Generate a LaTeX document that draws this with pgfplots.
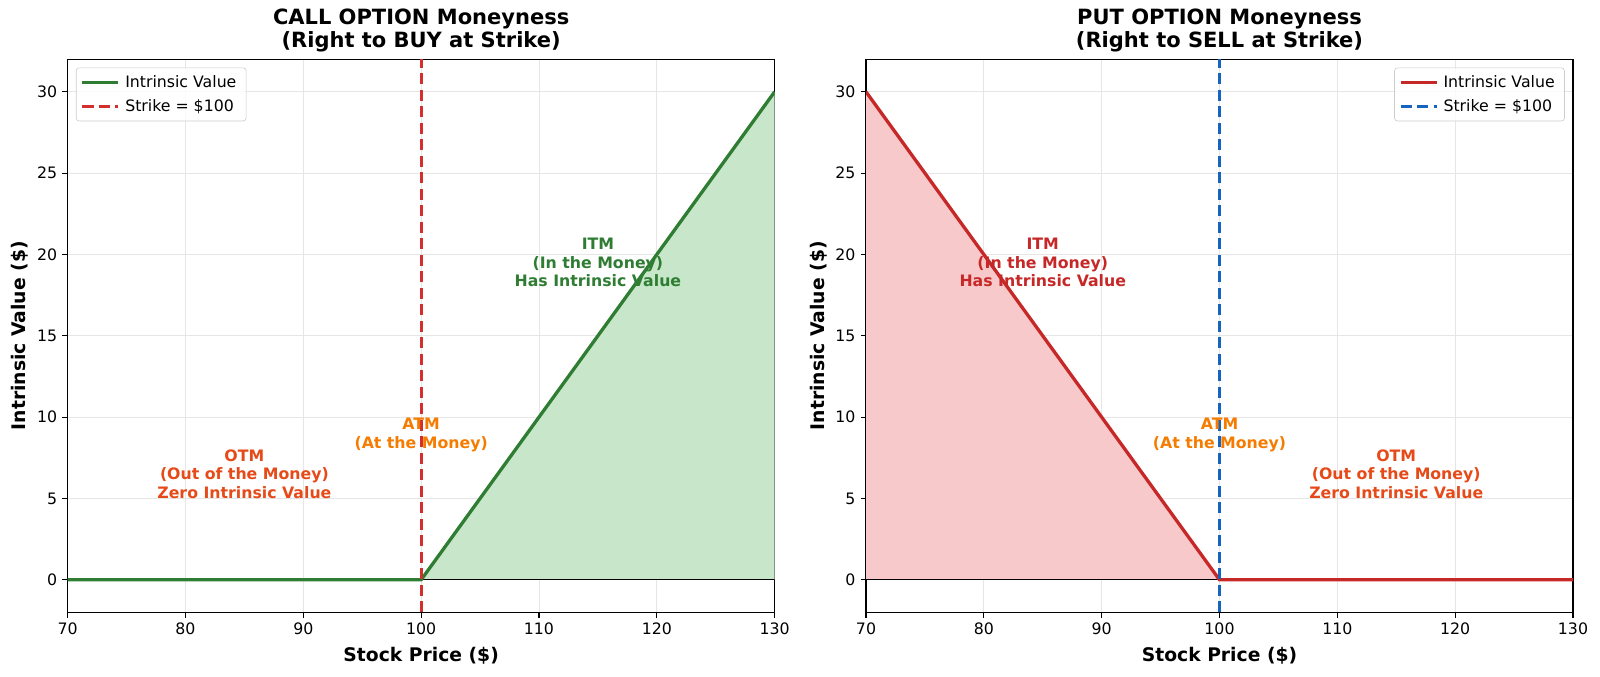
\documentclass[border=0pt]{standalone}
\usepackage{fontspec}
\setmainfont{DejaVu Sans}
\usepackage{pgfplots}
\pgfplotsset{compat=1.18}
\definecolor{callgreen}{HTML}{2E7D32}
\definecolor{callfill}{HTML}{C8E6C9}
\definecolor{strikered}{HTML}{D32F2F}
\definecolor{putred}{HTML}{C62828}
\definecolor{putfill}{HTML}{F8C9CA}
\definecolor{strikeblue}{HTML}{1565C0}
\definecolor{otmcol}{HTML}{E64A19}
\definecolor{atmcol}{HTML}{F57C00}
\definecolor{gridcol}{HTML}{E6E6E6}

\tikzset{annot/.style={align=center, font=\bfseries\fontsize{10.5}{12.3}\selectfont}}
\pgfplotsset{
  every axis title shift=0pt,
  optax/.style={
    scale only axis,
    width=471.3pt, height=368.7pt,
    xmin=70, xmax=130, ymin=-2, ymax=32,
    xtick={70,80,90,100,110,120,130},
    ytick={0,5,10,15,20,25,30},
    /pgf/number format/assume math mode=true,
    tick label style={font=\fontsize{10.5}{12}\selectfont, black},
    tick pos=left, tick align=outside,
    major tick length=3.5pt,
    every tick/.style={black, line width=0.7pt},
    axis line style={black, line width=0.9pt},
    grid=major,
    grid style={gridcol, line width=0.6pt},
    title style={at={(axis description cs:0.5,1.012)}, anchor=south, inner sep=0pt,
      font=\bfseries\fontsize{14}{15.5}\selectfont, align=center},
    xlabel style={at={(axis description cs:0.5,-0.0895)}, anchor=base,
      font=\bfseries\fontsize{12.5}{14}\selectfont},
    ylabel style={at={(axis description cs:-0.0675,0.5)}, anchor=center,
      font=\bfseries\fontsize{12.5}{14}\selectfont},
    xlabel={Stock Price (\$)},
    ylabel={Intrinsic Value (\$)},
    legend cell align=left,
    legend style={draw=gray!40, rounded corners=2pt, fill=white, fill opacity=0.8,
      text opacity=1, font=\fontsize{10.5}{12}\selectfont, inner sep=3pt,
      row sep=2.5pt, nodes={inner xsep=3.5pt}},
    legend image code/.code={\draw[#1] (0pt,0pt) -- (24pt,0pt);},
    clip=true,
  },
}

\begin{document}
\begin{tikzpicture}
\path[use as bounding box] (-45.1pt,-42.7pt) rectangle (1021.5pt,408.2pt);

% ---------- CALL ----------
\begin{axis}[optax, at={(0pt,0pt)}, anchor=south west,
  title={CALL OPTION Moneyness\\(Right to BUY at Strike)},
  legend style={at={(axis description cs:0,1)}, anchor=north west, xshift=5.5pt, yshift=-5.5pt}]
\addplot[draw=none, fill=callfill, forget plot] coordinates {(100,0) (130,30) (130,0)} -- cycle;
\addplot[black, line width=0.8pt, forget plot] coordinates {(70,0) (130,0)};
\addplot[callgreen, line width=2.2pt] coordinates {(70,0) (100,0) (130,30)};
\addlegendentry{Intrinsic Value}
\addplot[strikered, line width=2pt, dash pattern=on 7.5pt off 3.5pt] coordinates {(100,-2) (100,32)};
\addlegendentry{Strike = \$100}
\node[annot, text=callgreen] at (axis cs:115,19.5) {ITM\\(In the Money)\\Has Intrinsic Value};
\node[annot, text=atmcol] at (axis cs:100,8.9) {ATM\\(At the Money)};
\node[annot, text=otmcol] at (axis cs:85,6.5) {OTM\\(Out of the Money)\\Zero Intrinsic Value};
\end{axis}

% ---------- PUT ----------
\begin{axis}[optax, at={(532.2pt,0pt)}, anchor=south west,
  title={PUT OPTION Moneyness\\(Right to SELL at Strike)},
  legend style={at={(axis description cs:1,1)}, anchor=north east, xshift=-5.5pt, yshift=-5.5pt}]
\addplot[draw=none, fill=putfill, forget plot] coordinates {(70,0) (70,30) (100,0)} -- cycle;
\addplot[black, line width=0.8pt, forget plot] coordinates {(70,0) (130,0)};
\addplot[putred, line width=2.2pt] coordinates {(70,30) (100,0) (130,0)};
\addlegendentry{Intrinsic Value}
\addplot[strikeblue, line width=2pt, dash pattern=on 7.5pt off 3.5pt] coordinates {(100,-2) (100,32)};
\addlegendentry{Strike = \$100}
\node[annot, text=putred] at (axis cs:85,19.5) {ITM\\(In the Money)\\Has Intrinsic Value};
\node[annot, text=atmcol] at (axis cs:100,8.9) {ATM\\(At the Money)};
\node[annot, text=otmcol] at (axis cs:115,6.5) {OTM\\(Out of the Money)\\Zero Intrinsic Value};
\end{axis}
\end{tikzpicture}
\end{document}
